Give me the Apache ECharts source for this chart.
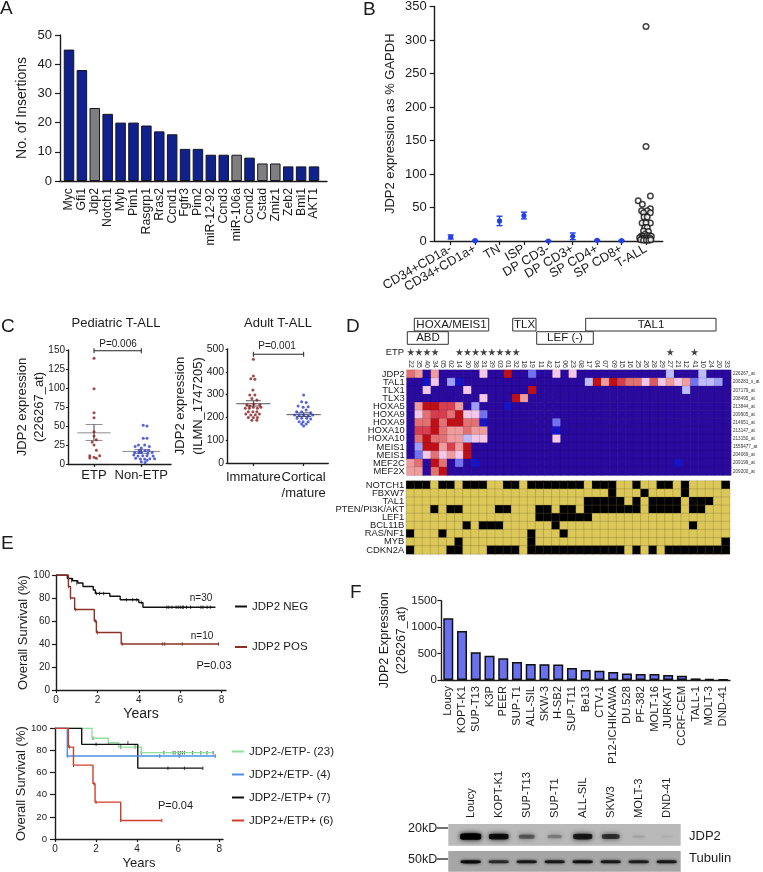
<!DOCTYPE html>
<html><head><meta charset="utf-8">
<style>html,body{margin:0;padding:0;background:#fff}#c{width:763px;height:872px}</style>
<script src="https://cdn.jsdelivr.net/npm/echarts@6/dist/echarts.min.js"></script>
</head><body><div id="c"></div>
<script>
// ---------- Panel A
const insertGenes = ['Myc','Gfi1','Jdp2','Notch1','Myb','Pim1','Rasgrp1','Rras2','Ccnd1','Fgfr3','Pim2','miR-12-92','Ccnd3','miR-106a','Ccnd2','Cstad','Zmiz1','Zeb2','Bmi1','AKT1'];
const insertValues = [45,38,25,23,20,20,19,17,16,11,11,9,9,9,8,6,6,5,5,5];
const greyGenes = ['Jdp2','miR-106a','Cstad','Zmiz1'];
// ---------- Panel B
const cellStages = ['CD34+CD1a-','CD34+CD1a+','TN','ISP','DP CD3-','DP CD3+','SP CD4+','SP CD8+','T-ALL'];
const stageMeans = [6,0.5,30,38,0,7,1,0.5];
const stageErrors = [3,0.5,7,5,0.3,5,0.5,0.5];
const tallPoints = [[8,320],[8,141],[8.18,67],[7.68,60],[7.85,55],[8.18,48],[7.82,45],[8.05,45],[8.18,42],[7.9,42],[7.92,36],[8.05,36],[7.84,27],[8.18,27],[8,27],[7.95,20],[8.05,20],[7.9,15],[8.1,14],[7.96,10],[7.8,7],[7.88,7],[8.04,8],[8.14,8],[8.22,7],[7.74,5],[7.84,4],[7.92,4],[8.0,4],[8.08,4],[8.16,4],[7.78,2],[7.9,1],[8.02,1],[8.12,1],[8.2,2]];
// ---------- Panel C
const pedGroups = ['ETP','Non-ETP'];
const pedEtp = [[0,139],[0,99],[0,67.5],[0,61],[0,42.5],[0,37],[0.05,32],[-0.04,29],[0,25],[0.05,18],[-0.09,11],[0,9],[0.12,11],[-0.09,8],[0.05,7.5]];
const pedNon = [[1.04,51],[1.12,50],[1.04,34],[1.12,34],[0.94,25],[1.07,25],[0.87,23],[1.17,23],[1,21],[0.96,18],[1.16,18],[1.08,17.5],[0.86,15],[0.95,15],[1,15],[1.14,14],[1.23,15],[0.84,12],[0.93,10.5],[1.03,11],[1.12,11],[1.25,10.5],[0.88,7.5],[0.98,6.5],[1.07,6.5],[1.18,7],[1.28,7],[1,3],[1.08,2],[1.12,5]];
const pedStats = [[0,41,31,52,0.35,0.18],[1,16.5,14,19,0.4,0.15]];
const adultGroups = ['Immature','Cortical\n/mature'];
const adultImm = [[0,455],[0,382],[-0.05,370],[0.03,367],[-0.01,320],[-0.07,298],[0.03,298],[-0.03,283],[0.07,276],[-0.13,255],[-0.07,250],[0.01,259],[0.13,255],[-0.16,240],[-0.08,240],[0,244],[0.08,240],[0.15,244],[-0.1,225],[-0.01,225],[0.07,225],[-0.15,215],[-0.05,210],[0.04,212],[0.12,215],[-0.1,200],[0,200],[0.08,200],[-0.03,188],[0.07,188]];
const adultCor = [[1,298],[0.96,269],[1.05,265],[0.89,250],[1.09,247],[0.99,244],[0.86,225],[0.96,225],[1.05,232],[1.14,220],[0.82,210],[0.91,210],[1,210],[1.09,206],[1.18,210],[0.87,196],[0.96,196],[1.06,196],[1.14,193],[0.91,181],[0.99,181],[1.09,181],[0.96,171],[1.05,171],[1,162]];
const adultStats = [[0,260,250,273,0.34,0.15],[1,212,204,220,0.34,0.15]];
// ---------- Panel D
const patientIds = ['22','35','40','34','05','02','14','30','38','31','39','03','01','32','18','19','11','42','13','06','23','08','17','04','07','09','15','16','25','26','28','29','27','21','12','41','10','24','20','33'];
const etpStarCols = [0,1,2,3,6,7,8,9,10,11,12,13,32,35];
const heatGenes = ['JDP2','TAL1','TLX1','TLX3','HOXA5','HOXA9','HOXA9','HOXA10','HOXA10','MEIS1','MEIS1','MEF2C','MEF2X'];
const heatProbes = ['226267_at','206283_s_at','207179_at','208495_at','213844_at','209905_at','214651_at','213147_at','213150_at','1559477_at','204069_at','209199_at','209200_at'];
const heatJDP2 = [[0,6],[1,5],[3,5],[9,4],[12,8],[15,2],[18,4],[20,4],[32,3],[36,3]];
const heatTAL1 = [[2,1],[3,4],[5,2.6],[6,1],[22,3],[23,8],[24,5],[25,8],[26,7],[27,6],[28,6],[29,4],[30,6.5],[31,4],[32,5],[33,4],[34,5],[35,2],[36,3],[37,3],[38,2.6]];
const heatTLX1 = [[2,4],[7,4],[15,8],[34,3]];
const heatTLX3 = [[9,4],[13,8],[14,5]];
const heatHOXA5 = [[1,5],[2,8],[3,8],[4,7],[5,7],[6,5],[8,2.6],[12,1]];
const heatHOXA9a = [[1,4],[2,6],[3,7],[4,7],[5,6],[6,8],[7,4],[8,4],[9,2]];
const heatHOXA9b = [[1,6],[2,6],[3,8],[4,6],[5,8],[6,8],[7,6],[8,6],[9,1],[18,2]];
const heatHOXA10a = [[1,7],[2,7],[3,8],[4,6],[5,5],[6,5],[7,6],[8,5],[9,5],[18,1]];
const heatHOXA10b = [[1,6],[2,8],[3,6],[4,6],[5,5],[6,5],[7,3],[8,4],[9,4],[18,4]];
const heatMEIS1a = [[1,2.6],[2,8],[3,8],[4,5],[5,7],[6,5],[7,8]];
const heatMEIS1b = [[1,2],[2,4],[3,6],[4,4],[5,5],[6,4],[7,8]];
const heatMEF2C = [[0,5],[1,6],[3,8],[4,6],[6,2],[8,1],[33,1]];
const heatMEF2X = [[0,5],[1,5],[3,6],[4,8]];
const heatRows = [heatJDP2,heatTAL1,heatTLX1,heatTLX3,heatHOXA5,heatHOXA9a,heatHOXA9b,heatHOXA10a,heatHOXA10b,heatMEIS1a,heatMEIS1b,heatMEF2C,heatMEF2X];
const mutGenes = ['NOTCH1','FBXW7','TAL1','PTEN/PI3K/AKT','LEF1','BCL11B','RAS/NF1','MYB','CDKN2A'];
const mutNOTCH1 = [0,1,2,4,5,7,8,9,12,13,15,16,17,18,19,20,21,23,24,25,28,31,32,34,39];
const mutFBXW7 = [25,29,34];
const mutTAL1 = [22,23,24,25,26,28,30,31,32,33,35,36,37];
const mutPTEN = [3,5,6,11,12,16,17,19,20,22,23,24,25,26,27,28,30,31,32,33,35,36];
const mutLEF1 = [16,17,18,19,20,21,22];
const mutBCL11B = [7,9,10,11,18,35];
const mutRAS = [0,4,15,19];
const mutMYB = [6,15,39];
const mutCDKN2A = [0,5,6,10,11,12,13,15,16,17,18,19,20,21,22,23,24,25,26,28,30,32,33,34,35,36,37,38,39];
const mutRows = [mutNOTCH1,mutFBXW7,mutTAL1,mutPTEN,mutLEF1,mutBCL11B,mutRAS,mutMYB,mutCDKN2A];
// ---------- Panel E
const yearTicks = [0,2,4,6,8];
const kmNeg = [[0,100],[0.55,97],[0.8,95],[1.05,93],[1.3,90],[1.8,87],[1.9,84],[2.6,81.5],[3.1,78.5],[4,76],[4.2,72],[7.7,72]];
const kmPos = [[0,100],[0.6,90],[0.7,80],[0.9,70],[1.85,60],[1.95,50],[3.15,40],[7.85,40]];
const censorNeg = [[0.75,95],[1.0,93],[1.95,84],[2.1,84],[2.3,84],[3.4,78.5],[3.7,78.5],[3.9,78.5],[4.12,76],[5.35,72],[5.45,72],[5.6,72],[5.8,72],[5.9,72],[6,72],[6.1,72],[6.15,72],[6.3,72],[6.5,72],[7,72],[7.1,72],[7.3,72],[7.45,72]];
const censorPos = [[0.6,90],[0.7,80],[0.95,70],[1.9,60],[2,50],[3.2,40],[5.15,40],[5.25,40],[6.1,40],[7.85,40]];
const kmNegEtpNeg = [[0,100],[1.8,91],[2.6,87],[3.1,83],[4.2,78],[7.7,78]];
const kmPosEtpNeg = [[0,100],[0.6,75],[7.8,75]];
const kmNegEtpPos = [[0,100],[1.3,85.5],[4.03,64],[7.2,64]];
const kmPosEtpPos = [[0,100],[0.65,83],[0.9,66.7],[1.85,50],[1.95,33.3],[3.2,16.7],[5.2,16.7]];
const censorNegEtpNeg = [[1.85,91],[2.6,87],[3.2,83],[3.55,87],[3.9,83],[4.2,78],[5.3,78],[5.75,78],[5.85,78],[6,78],[6.1,78],[6.2,78],[6.3,78],[6.7,78],[7.1,78],[7.4,78],[7.7,78]];
const censorPosEtpNeg = [[0.6,75],[5.1,75],[6.05,75],[7.8,75]];
const censorNegEtpPos = [[2,85.5],[5.5,64],[6.3,64],[7.2,64]];
const censorPosEtpPos = [[0.7,83],[0.9,66.7],[1.9,50],[2,33.3],[3.2,16.7],[5.2,16.7]];
// ---------- Panel F
const cellLines = ['Loucy','KOPT-K1','SUP-T13','K3P','PEER','SUP-T1','ALL-SIL','SKW-3','H-SB2','SUP-T11','Be13','CTV-1','P12-ICHIKAWA','DU.528','PF-382','MOLT-16','JURKAT','CCRF-CEM','TALL-1','MOLT-3','DND-41'];
const cellExpr = [1170,925,525,460,410,340,305,300,295,225,190,175,150,125,115,115,95,80,30,20,10];
const blotLanes = ['Loucy','KOPT-K1','SUP-T13','SUP-T1','ALL-SIL','SKW3','MOLT-3','DND-41'];
const blotJDP2 = [1,0.85,0.42,0.25,0.78,0.62,0.08,0.04];
const blotTubulin = [0.85,0.6,0.72,0.72,0.8,0.72,0.68,0.72];

// ---------- helpers
const FONT = '"Liberation Sans", Arial, sans-serif';
const INK = '#1c1c1c';
const GRID = (l,t,r,b)=>({left:l,top:t,width:r-l,height:b-t,containLabel:false});
const axLine = {show:true,onZero:false,lineStyle:{color:INK,width:1.4}};
function valY(gridIndex,min,max,interval,size,name,gap,nameSize,lh,margin,tickLen){
  return {type:'value',gridIndex,min,max,interval,splitLine:{show:false},
    axisLine:axLine,axisTick:{show:true,length:tickLen,lineStyle:{color:INK,width:1.2}},
    axisLabel:{fontFamily:FONT,fontSize:size,color:INK,margin,formatter:v=>String(v)},
    name,nameLocation:'middle',nameGap:gap,nameMoveOverlap:false,nameTextStyle:{fontFamily:FONT,fontSize:nameSize,color:INK,lineHeight:lh}};
}
function tickX(gridIndex,min,max,ticks,fmt,size,opts){
  const a=Object.assign({type:'value',gridIndex,min,max,splitLine:{show:false},
    axisLine:axLine,axisTick:{show:true,length:3,customValues:ticks,lineStyle:{color:INK,width:1.2}}},opts||{});
  a.axisLabel=Object.assign({customValues:ticks,formatter:fmt,fontFamily:FONT,fontSize:size,color:INK,margin:5,rotate:0,hideOverlap:false,showMinLabel:true,showMaxLabel:true},(opts&&opts.axisLabel)||{});
  return a;
}
function statsSeries(xi,yi,data,color){
  return {type:'custom',xAxisIndex:xi,yAxisIndex:yi,clip:false,data,encode:{x:0,y:[1,2,3]},silent:true,
    renderItem(p,api){
      const x=api.value(0),m=api.value(1),lo=api.value(2),hi=api.value(3),hw=api.value(4),cw=api.value(5);
      const seg=(a,b)=>({type:'line',shape:{x1:a[0],y1:a[1],x2:b[0],y2:b[1]},style:{stroke:color,lineWidth:1}});
      const dark=(a,b)=>({type:'line',shape:{x1:a[0],y1:a[1],x2:b[0],y2:b[1]},style:{stroke:'#444',lineWidth:1}});
      return {type:'group',children:[
        seg(api.coord([x-hw,m]),api.coord([x+hw,m])),
        seg(api.coord([x-cw,lo]),api.coord([x+cw,lo])),
        seg(api.coord([x-cw,hi]),api.coord([x+cw,hi])),
        dark(api.coord([x,lo]),api.coord([x,hi]))
      ]};
    }};
}
function bracket(xi,yi,x0,x1,y){
  return {type:'line',xAxisIndex:xi,yAxisIndex:yi,data:[[x0,y],[x1,y]],clip:false,silent:true,
    symbol:'rect',symbolSize:[1,5],lineStyle:{color:'#222',width:1},itemStyle:{color:'#222'}};
}
function km(name,xi,yi,data,color,w){
  return {type:'line',name,xAxisIndex:xi,yAxisIndex:yi,data,step:'end',showSymbol:false,symbol:'none',silent:true,
    lineStyle:{color,width:w||1.4},itemStyle:{color}};
}
function censor(xi,yi,data,color){
  return {type:'scatter',xAxisIndex:xi,yAxisIndex:yi,data,symbol:'rect',symbolSize:[1,3.5],silent:true,itemStyle:{color}};
}
function dots(xi,yi,data,color,size){
  return {type:'scatter',xAxisIndex:xi,yAxisIndex:yi,data,symbolSize:size,clip:false,silent:true,itemStyle:{color}};
}

const grids = [
  GRID(60,35,327,181),        // 0 A
  GRID(434.7,4.7,662.7,241),  // 1 B
  GRID(68,350,171,464),       // 2 C ped
  GRID(227.7,349,328.3,463),  // 3 C adult
  GRID(406.7,348,731,356),    // 4 stars
  GRID(406.7,370,731,475.3),  // 5 heat
  GRID(406.3,481,729.7,554),  // 6 mut
  GRID(56,575,226,690),       // 7 E top
  GRID(55,728.3,223,840.7),   // 8 E bottom
  GRID(441.4,600.7,730,680),  // 9 F
  Object.assign(GRID(448.3,824,680.7,845.7),{show:true,backgroundColor:'#b9b9b9',borderWidth:0}), // 10 blot
  Object.assign(GRID(448.3,851,680.7,871.7),{show:true,backgroundColor:'#a6a6a6',borderWidth:0}), // 11 blot
  GRID(438.5,4.7,658.2,241)   // 12 B category labels
];

const xAxes = [
  tickX(0,-0.698,20.008,insertGenes.map((_,i)=>i),v=>insertGenes[v],12.3,{axisTick:{show:false},axisLabel:{margin:7,rotate:90}}),
  tickX(1,-0.655,8.685,cellStages.map((_,i)=>i),v=>'',12.8,{axisTick:{show:true,length:4,customValues:cellStages.map((_,i)=>i),lineStyle:{color:INK,width:1.2}}}),
  tickX(2,-0.55,1.628,[0,1],v=>pedGroups[v],13),
  tickX(3,-0.51,1.49,[0,1],v=>adultGroups[v],13,{axisLabel:{margin:6,lineHeight:16}}),
  {type:'category',gridIndex:4,data:patientIds,show:false},
  {type:'category',gridIndex:5,data:patientIds,position:'top',axisLine:{show:false},axisTick:{show:false},splitLine:{show:false},
    axisLabel:{interval:0,rotate:90,fontFamily:FONT,fontSize:7,color:'#333',margin:2,hideOverlap:false}},
  {type:'category',gridIndex:6,data:patientIds,show:false},
  tickX(7,0,8.21,yearTicks,v=>String(v),10),
  tickX(8,0,8.18,yearTicks,v=>String(v),10),
  {type:'category',gridIndex:9,data:cellLines,axisLine:axLine,axisTick:{show:false},
    axisLabel:{interval:0,rotate:90,fontFamily:FONT,fontSize:11.2,color:INK,margin:6,hideOverlap:false}},
  {type:'value',gridIndex:10,min:-0.8,max:7.5,position:'top',axisLine:{show:false},axisTick:{show:false},splitLine:{show:false},
    axisLabel:{customValues:blotLanes.map((_,i)=>i),formatter:v=>blotLanes[v],rotate:90,fontFamily:FONT,fontSize:11.2,color:INK,margin:6,hideOverlap:false,showMinLabel:true,showMaxLabel:true}},
  {type:'value',gridIndex:11,min:-0.8,max:7.5,show:false},
  {type:'category',gridIndex:12,data:cellStages,axisLine:{show:false},axisTick:{show:false},splitLine:{show:false},
    axisLabel:{interval:0,rotate:30,fontFamily:FONT,fontSize:12.8,color:INK,margin:7,hideOverlap:false}}
];
[7,8].forEach((i,k)=>{Object.assign(xAxes[i],{name:'Years',nameLocation:'middle',nameGap:16,nameMoveOverlap:false,
  nameTextStyle:{fontFamily:FONT,fontSize:k?13:14,color:INK,lineHeight:16}});});

const catY = (gridIndex,data,size,extra)=>Object.assign({type:'category',gridIndex,data,inverse:true,axisLine:{show:false},axisTick:{show:false},splitLine:{show:false},
  axisLabel:{interval:0,fontFamily:FONT,fontSize:size,color:INK,margin:2,hideOverlap:false}},extra||{});
const yAxes = [
  valY(0,0,50,10,13,'No. of Insertions',29.5,14,17,8,5),                     // 0
  valY(1,0,350,50,13,'JDP2 expression as % GAPDH',36.7,13,16,8,5),           // 1
  valY(2,0,150,25,10,'JDP2 expression\n(226267_at)',20.5,13,17,3,2),         // 2
  valY(3,0,500,100,10.5,'JDP2 expression\n(ILMN_1747205)',20.7,13,18,3.5,2), // 3
  {type:'value',gridIndex:4,min:0,max:1,show:false},                         // 4
  catY(5,heatGenes,9.4),                                                     // 5
  catY(5,heatProbes,4.6,{position:'right',axisLabel:{interval:0,fontFamily:FONT,fontSize:4.6,color:'#333',margin:2,hideOverlap:false}}), // 6
  catY(6,mutGenes,9.4),                                                      // 7
  valY(7,0,100,20,10,'Overall Survival (%)',25,13,16,6,4),                   // 8
  valY(8,0,100,20,9.6,'Overall Survival (%)',26,13,16,8,5),                  // 9
  valY(9,0,1500,500,11.5,'JDP2 Expression\n(226267_at)',31,12.5,17,4.5,4),   // 10
  {type:'value',gridIndex:10,min:0,max:1,show:false},                        // 11
  {type:'value',gridIndex:11,min:0,max:1,show:false},                        // 12
  {type:'value',gridIndex:12,min:0,max:1,show:false}                         // 13
];

const cells = [];
heatRows.forEach((row,r)=>{
  patientIds.forEach((_,c)=>{
    const hit=row.find(e=>e[0]===c);
    cells.push([c,r,hit?hit[1]:0]);
  });
});
const mutCells = [];
mutRows.forEach((row,r)=>patientIds.forEach((_,c)=>mutCells.push([c,r,row.includes(c)?1:0])));

const series = [
  // A
  {type:'bar',xAxisIndex:0,yAxisIndex:0,barWidth:10.5,silent:true,
   data:insertValues.map((v,i)=>({value:[i,v],itemStyle:{color:greyGenes.includes(insertGenes[i])?'#7f7f7f':'#10208c',borderColor:'#15151f',borderWidth:1}}))},
  // B
  {type:'custom',xAxisIndex:1,yAxisIndex:1,clip:false,silent:true,data:stageMeans.map((m,i)=>[i,m,m-stageErrors[i],m+stageErrors[i]]),encode:{x:0,y:[1,2,3]},
   renderItem(p,api){
     const x=api.value(0),c=api.coord([x,api.value(1)]),lo=api.coord([x,api.value(2)]),hi=api.coord([x,api.value(3)]);
     const col='#2340e6';
     const l=(x1,y1,x2,y2)=>({type:'line',shape:{x1,y1,x2,y2},style:{stroke:col,lineWidth:1.4}});
     return {type:'group',children:[
       l(lo[0],lo[1],hi[0],hi[1]),l(lo[0]-3,lo[1],lo[0]+3,lo[1]),l(hi[0]-3,hi[1],hi[0]+3,hi[1]),
       {type:'circle',shape:{cx:c[0],cy:c[1],r:2.6},style:{fill:col}}]};
   }},
  {type:'scatter',xAxisIndex:1,yAxisIndex:1,data:tallPoints,symbolSize:5.5,clip:false,silent:true,itemStyle:{color:'#fff',borderColor:'#111',borderWidth:1.5}},
  // C
  statsSeries(2,2,pedStats,'#8c8c8c'),
  dots(2,2,pedEtp,'#8a1c1c',3),
  dots(2,2,pedNon,'#2a3cd0',3),
  bracket(2,2,0,1,149),
  statsSeries(3,3,adultStats,'#555'),
  dots(3,3,adultImm,'#8a1c1c',3),
  dots(3,3,adultCor,'#2a3cd0',3),
  bracket(3,3,0,1,477),
  // D stars
  {type:'scatter',xAxisIndex:4,yAxisIndex:4,data:etpStarCols.map(c=>[c,0.5]),silent:true,
   symbol:'path://M50,0 L61,35 L98,35 L68,57 L79,91 L50,70 L21,91 L32,57 L2,35 L39,35 Z',symbolSize:7.5,itemStyle:{color:'#111'}},
  // D heat
  {id:'heat',type:'heatmap',xAxisIndex:5,yAxisIndex:5,data:cells,silent:true,itemStyle:{borderColor:'rgba(20,0,60,0.22)',borderWidth:0.5}},
  {id:'mut',type:'heatmap',xAxisIndex:6,yAxisIndex:7,data:mutCells,silent:true,itemStyle:{borderColor:'rgba(110,100,50,0.5)',borderWidth:0.5}},
  // E top
  km('JDP2 NEG',7,8,kmNeg,'#111'),
  km('JDP2 POS',7,8,kmPos,'#8f3026'),
  censor(7,8,censorNeg,'#111'),
  censor(7,8,censorPos,'#5a1a12'),
  // E bottom
  km('JDP2-/ETP- (23)',8,9,kmNegEtpNeg,'#8fe09a'),
  km('JDP2-/ETP+ (7)',8,9,kmNegEtpPos,'#111'),
  km('JDP2+/ETP- (4)',8,9,kmPosEtpNeg,'#4a90e6'),
  km('JDP2+/ETP+ (6)',8,9,kmPosEtpPos,'#d23c2c'),
  censor(8,9,censorNegEtpNeg,'#222'),
  censor(8,9,censorPosEtpNeg,'#1c3c80'),
  censor(8,9,censorNegEtpPos,'#111'),
  censor(8,9,censorPosEtpPos,'#601a10'),
  // F
  {type:'bar',xAxisIndex:9,yAxisIndex:10,data:cellExpr,barWidth:10,silent:true,itemStyle:{color:'#6a70ee',borderColor:'#111',borderWidth:1.5}},
  // blot
  {type:'scatter',xAxisIndex:10,yAxisIndex:11,silent:true,symbol:'roundRect',symbolSize:v=>[12+9*v[2],2.5+4*v[2]],
   data:blotJDP2.map((v,i)=>({value:[i,0.42,v],itemStyle:{color:'#000',opacity:v,shadowBlur:5,shadowColor:'#000'}}))},
  {type:'scatter',xAxisIndex:11,yAxisIndex:12,silent:true,symbol:'roundRect',symbolSize:v=>[20,2+1.5*v[2]],
   data:blotTubulin.map((v,i)=>({value:[i,0.48,v],itemStyle:{color:'#000',opacity:v,shadowBlur:3,shadowColor:'#000'}}))}
];

// ---------- annotation text
const T=(text,x,y,size,align,extra)=>({type:'text',silent:true,style:Object.assign({text,x,y,font:(size)+'px '+FONT,fill:INK,textAlign:align||'left',textVerticalAlign:'middle'},extra||{})});
const BOX=(x0,y0,x1,y1)=>({type:'rect',silent:true,shape:{x:x0,y:y0,width:x1-x0,height:y1-y0},style:{fill:'#fff',stroke:'#333',lineWidth:1}});
const DASH=(x0,x1,y)=>({type:'line',silent:true,shape:{x1:x0,y1:y,x2:x1,y2:y},style:{stroke:'#111',lineWidth:1.2}});
const graphic = [
  T('A',0,9,19),T('B',363,10,19),T('C',1,327,19),T('D',346,327,19),T('E',1,544,19),T('F',350,593,19),
  T('Pediatric T-ALL',116,323,13,'center'),T('Adult T-ALL',278,323,13,'center'),
  T('P=0.006',118,344,10,'center'),T('P=0.001',277,346.5,10,'center'),
  BOX(414.3,318.3,488.7,331),T('HOXA/MEIS1',451.5,324.8,11.5,'center'),
  BOX(512.7,318.3,536,331),T('TLX',524.5,324.8,11.5,'center'),
  BOX(585.7,318.3,716,331),T('TAL1',651,324.8,11.5,'center'),
  BOX(407.3,331.7,448.3,344.3),T('ABD',428,338,11.5,'center'),
  BOX(536.7,331.7,593.3,344.3),T('LEF (-)',565,338,11.5,'center'),
  T('ETP',404,352,9.4,'right'),
  T('n=30',201,598.5,10,'center'),T('n=10',202,636,10,'center'),T('P=0.03',214,666,11,'center'),
  T('P=0.04',175.5,805.5,11,'center'),
  T('20kD',408,828.5,12.5),DASH(437,448,828),T('50kD',408,859.5,12.5),DASH(437,448,859),
  T('JDP2',689,836,13),T('Tubulin',689,858.5,13)
];

const legendText={fontFamily:FONT,fontSize:11.5,color:INK};
const chart = echarts.init(document.getElementById('c'),null,{renderer:'canvas',width:763,height:872});
chart.setOption({
  animation:false,backgroundColor:'#fff',textStyle:{fontFamily:FONT},
  grid:grids,xAxis:xAxes,yAxis:yAxes,series,graphic,
  visualMap:[
    {type:'continuous',show:false,seriesId:'heat',dimension:2,min:0,max:8,
     inRange:{color:['#2a0a9e','#1614c6','#7272f0','#bcbcff','#f4c8e6','#ee9c9c','#e27272','#d83e4e','#bf1018']}},
    {type:'piecewise',show:false,seriesId:'mut',dimension:2,pieces:[{value:0,color:'#dcc858'},{value:1,color:'#000'}]}
  ],
  legend:[
    {orient:'vertical',left:235,top:600.5,padding:0,itemGap:28.5,itemWidth:12,itemHeight:2,icon:'rect',selectedMode:false,textStyle:legendText,
     data:['JDP2 NEG','JDP2 POS']},
    {orient:'vertical',left:232,top:745.5,padding:0,itemGap:11,itemWidth:12,itemHeight:2,icon:'rect',selectedMode:false,textStyle:legendText,
     data:['JDP2-/ETP- (23)','JDP2+/ETP- (4)','JDP2-/ETP+ (7)','JDP2+/ETP+ (6)']}
  ]
});
</script></body></html>
